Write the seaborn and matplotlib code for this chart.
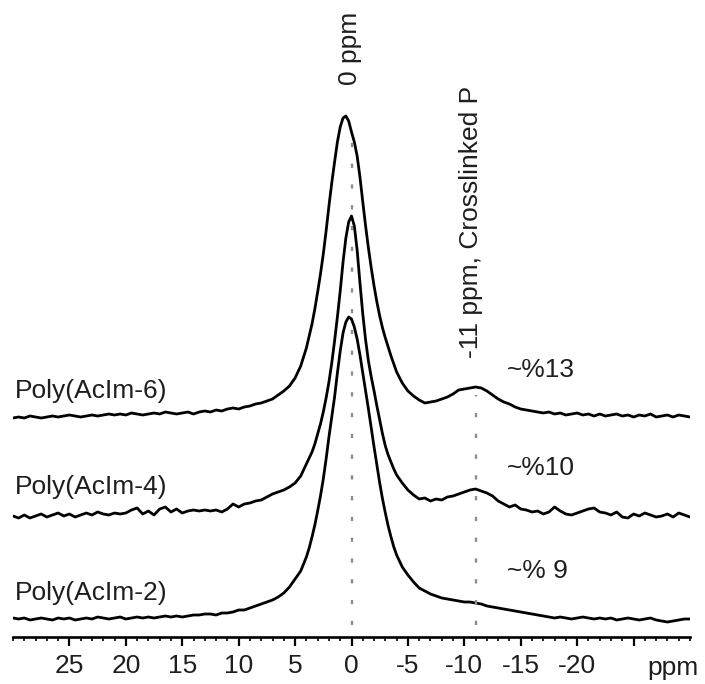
import numpy as np
import matplotlib
matplotlib.use("Agg")
import matplotlib.pyplot as plt
from matplotlib.ticker import MultipleLocator, FixedLocator, FixedFormatter
import seaborn as sns

# 31P chemical shift axis (ppm): 0.5 ppm steps on the wings,
# 0.25 ppm steps across the main resonance
ppm = np.concatenate([
    np.linspace(30, 4, 53),
    np.linspace(3.75, -3.75, 31),
    np.linspace(-4, -30, 53),
])

# Normalised intensities (arbitrary units) of each spectrum, high to low ppm
acim6 = [
    # 30 .. 4 ppm
    -2, -1, -2, 0, -1, -2, -1, 0, -1, 0,
    1, 0, -1, 0, 1, 0, 1, 2, 1, 2,
    1, 3, 2, 1, 2, 3, 2, 4, 3, 2,
    3, 4, 2, 4, 5, 4, 6, 5, 7, 8,
    7, 9, 10, 12, 13, 15, 17, 21, 25, 30,
    38, 50, 68,
    # 3.75 .. -3.75 ppm
    80, 92, 107, 124, 142, 162, 185, 210, 233, 254,
    274, 289, 298, 300, 295, 284, 274, 260, 239, 214,
    190, 168, 148, 130, 114, 100, 88, 78, 69, 60,
    52,
    # -4 .. -30 ppm
    44, 33,
    25, 20, 16, 13, 14, 15, 17, 19, 22, 26,
    27, 28, 29, 28, 25, 21, 17, 14, 12, 9,
    7, 6, 5, 4, 3, 4, 2, 3, 1, 2,
    3, 1, 2, 0, 2, 0, 1, 2, 0, 1,
    -1, 1, 0, 2, -1, 0, 1, -1, 1, 0,
    -1,
]
acim4 = [
    0, -2, 1, -2, 0, 2, -1, 1, 3, 0,
    2, -1, 1, 3, 1, 4, 2, 1, 3, 2,
    3, 6, 8, 2, 5, 1, 7, 9, 4, 7,
    3, 5, 6, 5, 6, 5, 6, 4, 7, 12,
    9, 12, 13, 15, 16, 19, 22, 24, 26, 29,
    33, 40, 52,
    58, 64, 72, 82, 92, 104, 118, 134, 153, 175,
    199, 225, 254, 278, 294, 300, 290, 266, 233, 202,
    176, 155, 139, 125, 110, 96, 82, 70, 61, 54,
    47,
    41, 33,
    26, 21, 17, 18, 15, 17, 16, 19, 20, 22,
    24, 26, 27, 25, 23, 20, 15, 12, 9, 11,
    7, 6, 4, 5, 2, 4, 9, 5, 2, 1,
    3, 5, 7, 8, 4, 3, 1, 4, -1, -2,
    2, 0, 3, 1, -1, 0, 2, -1, 3, 1,
    -1,
]
acim2 = [
    1, 0, 1, -1, 0, 1, 0, -1, 1, 0,
    1, -1, 0, 1, 0, 2, 1, 0, 1, 2,
    0, 1, 2, 1, 2, 1, 2, 3, 2, 3,
    2, 3, 4, 4, 5, 5, 4, 6, 6, 7,
    9, 9, 11, 13, 15, 17, 19, 22, 26, 32,
    40, 48, 62,
    71, 82, 94, 108, 123, 140, 160, 182, 202, 222,
    246, 268, 286, 297, 302, 300, 292, 280, 264, 246,
    228, 210, 191, 172, 154, 136, 120, 106, 93, 82,
    72,
    64, 52,
    44, 37, 31, 28, 25, 23, 21, 20, 19, 18,
    17, 17, 16, 15, 13, 12, 11, 10, 9, 8,
    7, 6, 5, 4, 3, 2, 1, 2, 1, 0,
    1, 2, 1, 0, 1, 0, 1, -1, 0, 1,
    0, -1, 0, 1, -1, -2, -3, -2, -1, 0,
    0,
]

samples = ["Poly(AcIm-6)", "Poly(AcIm-4)", "Poly(AcIm-2)"]
crosslinked = ["~%13", "~%10", "~% 9"]
reference_shifts = [0, -11]
reference_labels = ["0 ppm", "-11 ppm, Crosslinked P"]
tick_values = [25, 20, 15, 10, 5, 0, -5, -10, -15, -20, -25]
tick_labels = ["25", "20", "15", "10", "5", "0", "-5", "-10", "-15", "-20", ""]

sns.set_theme(style="ticks")
plt.rcParams["font.family"] = ["Liberation Sans", "DejaVu Sans"]

W, H = 705, 684
fig = plt.figure(figsize=(W / 100, H / 100), dpi=100)
ax = fig.add_axes([13 / W, 47 / H, 677 / W, 637 / H])

# vertical stacking of the spectra
offsets = [221, 121, 18]
for vals, off in zip([acim6, acim4, acim2], offsets):
    sns.lineplot(x=ppm, y=np.asarray(vals, dtype=float) + off, ax=ax,
                 color="black", lw=2.0, sort=False, estimator=None)

# dotted guides at the reference shifts
ax.vlines(reference_shifts[0], 12, 497, colors="#8c8c8c", lw=1.7,
          linestyles=(0, (1.8, 7.0)))
ax.vlines(reference_shifts[1], 12, 242, colors="#8c8c8c", lw=1.7,
          linestyles=(0, (1.8, 7.0)))

ax.set_xlim(30, -30)
ax.set_ylim(0, 637)

txt = dict(color="#1e1e1e", fontsize=19)
ax.text(0.1, 589, reference_labels[0], rotation=90, ha="center", va="center", **txt)
ax.text(-10.6, 415, reference_labels[1], rotation=90, ha="center", va="center", **txt)

for name, y in zip(samples, [246, 150, 44]):
    ax.text(29.8, y, name, ha="left", va="center", **txt)
for pct, y in zip(crosslinked, [267, 169, 66]):
    ax.text(-13.75, y, pct, ha="left", va="center", **txt)

ax.text(-28.5, -31, "ppm", ha="center", va="center", clip_on=False, **txt)

# x axis only
for side in ["left", "right", "top"]:
    ax.spines[side].set_visible(False)
ax.spines["bottom"].set_linewidth(1.9)
ax.spines["bottom"].set_color("black")
ax.set_yticks([])
ax.xaxis.set_major_locator(FixedLocator(tick_values))
ax.xaxis.set_major_formatter(FixedFormatter(tick_labels))
ax.xaxis.set_minor_locator(MultipleLocator(1))
ax.tick_params(axis="x", which="major", direction="out", length=6.5, width=1.6,
               color="black", labelsize=19, labelcolor="#1e1e1e", pad=6)
ax.tick_params(axis="x", which="minor", direction="out", length=3, width=1.2,
               color="black")
ax.set_xlabel("")
ax.set_ylabel("")
ax.patch.set_alpha(0)

fig.savefig("out.png", dpi=100, facecolor="white")
